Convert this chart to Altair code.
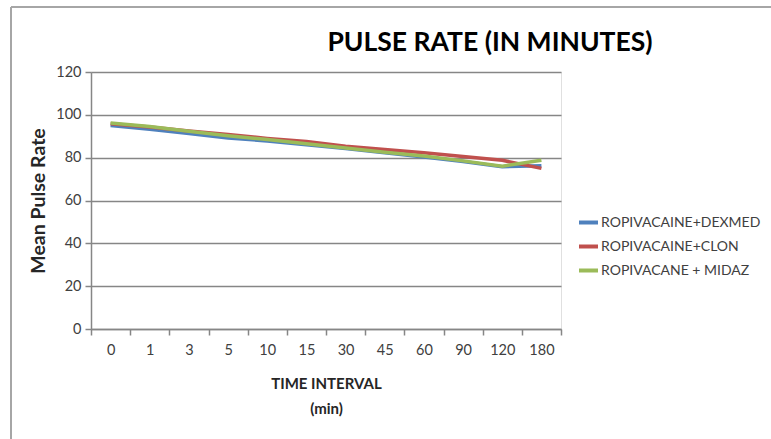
import altair as alt
import pandas as pd

times = ["0", "1", "3", "5", "10", "15", "30", "45", "60", "90", "120", "180"]
series_names = ["ROPIVACAINE+DEXMED", "ROPIVACAINE+CLON", "ROPIVACANE + MIDAZ"]
dexmed = [95.0, 93.3, 91.3, 89.2, 87.8, 86.0, 84.3, 82.3, 80.3, 78.2, 75.8, 76.2]
clon = [95.8, 94.3, 92.5, 90.8, 89.0, 87.5, 85.3, 83.8, 82.3, 80.5, 78.8, 75.0]
midaz = [96.2, 94.5, 92.3, 90.2, 88.5, 86.5, 84.5, 82.5, 80.8, 78.5, 76.0, 78.8]
colors = ["#4F81BD", "#C0504D", "#9BBB59"]
chart_title = "PULSE RATE (IN MINUTES)"

rows = []
for name, vals in zip(series_names, [dexmed, clon, midaz]):
    for t, v in zip(times, vals):
        rows.append({"time": t, "value": v, "series": name})
df = pd.DataFrame(rows)

FONT = "Lato"

lines = alt.Chart(df).mark_line(strokeWidth=3.5).encode(
    x=alt.X("time:O", sort=times,
            scale=alt.Scale(type="band", paddingInner=0, paddingOuter=0),
            axis=alt.Axis(title=["TIME INTERVAL", "(min)"], titleFontWeight="bold",
                          titleFontSize=15, titleLineHeight=25, titlePadding=20,
                          labelAngle=0, labelFontSize=14.5, labelPadding=8,
                          tickBand="extent", tickSize=6, grid=False,
                          domainColor="#868686", tickColor="#868686",
                          domainWidth=1.5, tickWidth=1.5)),
    y=alt.Y("value:Q", scale=alt.Scale(domain=[0, 120], nice=False),
            axis=alt.Axis(title="Mean Pulse Rate", titleFontWeight="bold",
                          titleFontSize=19.5, titlePadding=7,
                          values=[0, 20, 40, 60, 80, 100, 120], labelFontSize=14.5,
                          tickSize=6, labelPadding=4,
                          grid=True, gridColor="#868686", gridWidth=1.5,
                          domainColor="#868686", tickColor="#868686",
                          domainWidth=1.5, tickWidth=1.5)),
    color=alt.Color("series:N", scale=alt.Scale(domain=series_names, range=colors),
                    legend=alt.Legend(title=None, orient="none", legendX=486, legendY=139,
                                      symbolType="stroke", symbolStrokeWidth=4,
                                      symbolSize=361, labelFontSize=14,
                                      labelOffset=1, rowPadding=4, labelLimit=300,
                                      labelColor="#404040")),
)

title_layer = alt.Chart(alt.Data(values=[{"t": chart_title}])).mark_text(
    font=FONT, fontSize=26.5, fontWeight="bold", color="#000000",
    align="center", baseline="alphabetic").encode(
    text="t:N", x=alt.value(399), y=alt.value(-21))

border_top = alt.Chart(alt.Data(values=[{}])).mark_rule(color="#a6a6a6", strokeWidth=2).encode(
    x=alt.value(-80), x2=alt.value(690), y=alt.value(-65))
border_left = alt.Chart(alt.Data(values=[{}])).mark_rule(color="#a6a6a6", strokeWidth=2).encode(
    x=alt.value(-80), y=alt.value(-65), y2=alt.value(380))

chart = alt.layer(border_top, border_left, lines, title_layer).properties(
    width=470, height=257,
    autosize=alt.AutoSizeParams(type="none"),
    padding={"left": 91, "top": 72, "right": 210, "bottom": 110},
).configure(font=FONT).configure_axis(
    labelColor="#404040", titleColor="#262626", labelFont=FONT, titleFont=FONT
).configure_legend(labelFont=FONT).configure_view(stroke="#e0e0e0", strokeWidth=1)

chart.save("out.html", embed_options={"renderer": "svg", "actions": False})
